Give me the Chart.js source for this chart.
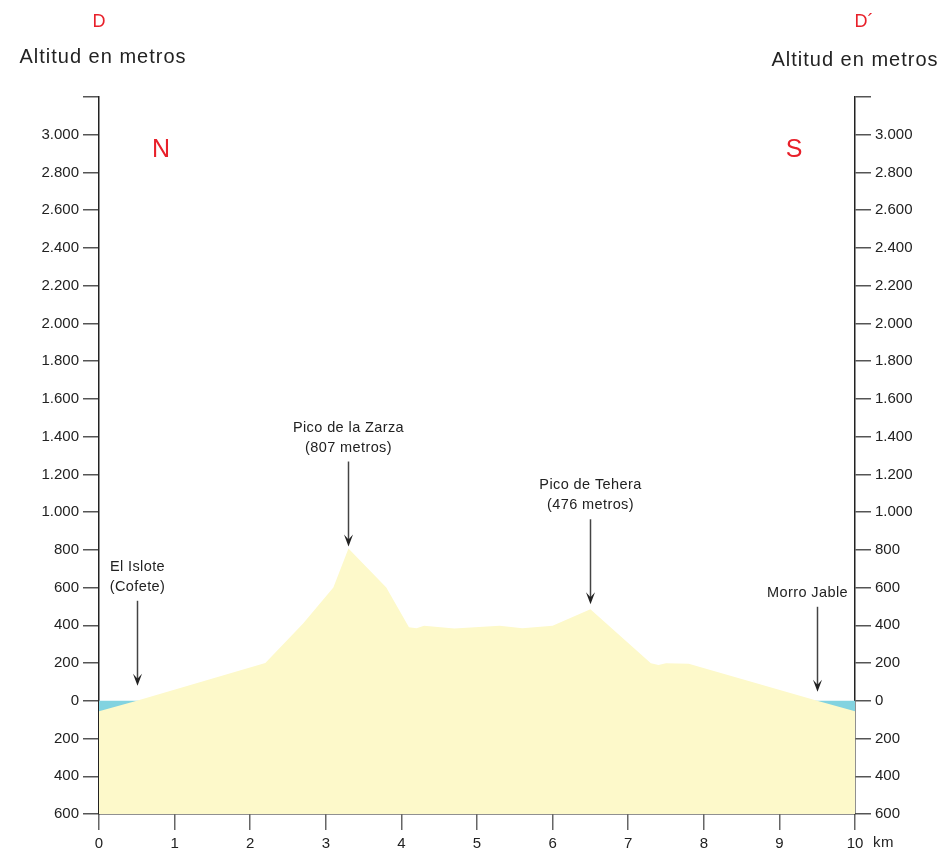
<!DOCTYPE html>
<html>
<head>
<meta charset="utf-8">
<script src="https://cdn.jsdelivr.net/npm/chart.js@4/dist/chart.umd.min.js"></script>
<style>
  html, body { margin: 0; padding: 0; background: #fff; }
  #wrap { position: relative; width: 950px; height: 858px; }
</style>
</head>
<body>
<div id="wrap"><canvas id="profileChart"></canvas></div>
<script>
// Profile D - D' (km along the section, altitude in metres)
const distanceKm = [0, 0.5, 2.2, 2.7, 3.1, 3.3, 3.8, 4.1, 4.2, 4.3, 4.7, 5.3, 5.6, 6.0, 6.5, 7.3, 7.4, 7.5, 7.8, 9.5, 10];
const altitudeM  = [-55, 0, 200, 410, 600, 807, 600, 390, 384, 398, 383, 398, 384, 398, 485, 199, 190, 199, 196, 0, -55];

// sea level line
const seaKm = [0, 10];
const seaM = [0, 0];

// axis ticks
const yTicks = [-600, -400, -200, 0, 200, 400, 600, 800, 1000, 1200, 1400, 1600, 1800, 2000, 2200, 2400, 2600, 2800, 3000, 3200];
const xTicks = [0, 1, 2, 3, 4, 5, 6, 7, 8, 9, 10];

// place names with arrows
const placeNames = [['El Islote', '(Cofete)'], ['Pico de la Zarza', '(807 metros)'], ['Pico de Tehera', '(476 metros)'], ['Morro Jable']];
const placeKm = [0.5, 3.3, 6.5, 9.5];
const placeAlt = [0, 807, 485, 0];

const FONT = '"Liberation Sans", Arial, sans-serif';
const INK = '#222';

function fmt(v) {
  return String(Math.abs(v)).replace(/\B(?=(\d{3})+(?!\d))/g, '.');
}

// draws the titles, N / S, the arrows and the "km" unit
const labelsPlugin = {
  id: 'profileLabels',
  beforeInit(chart) {
    chart.ctx.letterSpacing = '0.6px';
  },
  afterDraw(chart) {
    const ctx = chart.ctx;
    const xs = chart.scales.x;
    const ys = chart.scales.y;
    ctx.save();
    ctx.textAlign = 'center';
    ctx.textBaseline = 'middle';

    // section letters
    ctx.fillStyle = '#e8202a';
    ctx.font = '18px ' + FONT;
    ctx.fillText('D', 99, 22);
    ctx.fillText('D\u00B4', 864, 22);
    ctx.font = '25px ' + FONT;
    ctx.fillText('N', 161, 150);
    ctx.fillText('S', 794, 150);

    // axis titles
    ctx.fillStyle = INK;
    ctx.letterSpacing = '1px';
    ctx.font = '20px ' + FONT;
    ctx.fillText('Altitud en metros', 103, 57);
    ctx.fillText('Altitud en metros', 855, 60);

    // unit after last x tick
    ctx.letterSpacing = '0.6px';
    ctx.font = '15px ' + FONT;
    ctx.textAlign = 'left';
    ctx.fillText('km', xs.getPixelForValue(10) + 18, 843);

    // arrows + names
    const gaps = [15, 2, 5, 9];
    const textDx = [0, 0, 0, -10];
    ctx.font = '14.5px ' + FONT;
    ctx.textAlign = 'center';
    ctx.letterSpacing = '0.4px';
    placeNames.forEach((lines, i) => {
      const x = Math.round(xs.getPixelForValue(placeKm[i])) + 0.5;
      const tip = ys.getPixelForValue(placeAlt[i]) - gaps[i];
      const top = tip - 85;
      ctx.strokeStyle = '#444';
      ctx.lineWidth = 1.5;
      ctx.beginPath();
      ctx.moveTo(x, top);
      ctx.lineTo(x, tip - 5);
      ctx.stroke();
      ctx.fillStyle = INK;
      ctx.beginPath();
      ctx.moveTo(x, tip);
      ctx.lineTo(x - 4.5, tip - 12);
      ctx.lineTo(x, tip - 7);
      ctx.lineTo(x + 4.5, tip - 12);
      ctx.closePath();
      ctx.fill();
      const lh = 20;
      lines.forEach((t, j) => {
        ctx.fillText(t, x + textDx[i], top - 14 - (lines.length - 1 - j) * lh);
      });
    });
    ctx.restore();
  }
};

const tickFont = { family: FONT, size: 15 };

const yAxis = (position, width) => ({
  type: 'linear',
  position: position,
  min: -600,
  max: 3200,
  afterBuildTicks(scale) {
    scale.ticks = yTicks.map(v => ({ value: v }));
  },
  afterFit(scale) {
    scale.width = width;
  },
  border: { color: INK, width: 1.5 },
  grid: { drawOnChartArea: false, drawTicks: true, tickLength: 16, color: '#555', lineWidth: 1.5 },
  ticks: {
    color: INK,
    font: tickFont,
    padding: 4,
    callback: v => (v === 3200 ? '' : fmt(v))
  }
});

new Chart(document.getElementById('profileChart'), {
  type: 'line',
  data: {
    datasets: [
      {
        label: 'Perfil',
        data: distanceKm.map((k, i) => ({ x: k, y: altitudeM[i] })),
        backgroundColor: '#fdf9ca',
        borderWidth: 0,
        pointRadius: 0,
        tension: 0,
        fill: 'start'
      },
      {
        label: 'Mar',
        data: seaKm.map((k, i) => ({ x: k, y: seaM[i] })),
        backgroundColor: '#82d3e0',
        borderWidth: 0,
        pointRadius: 0,
        fill: 'start'
      }
    ]
  },
  options: {
    responsive: true,
    maintainAspectRatio: false,
    animation: false,
    layout: { padding: { top: 97, left: 0, right: 0, bottom: 0 } },
    plugins: {
      legend: { display: false },
      tooltip: { enabled: false }
    },
    scales: {
      x: {
        type: 'linear',
        min: 0,
        max: 10,
        afterBuildTicks(scale) {
          scale.ticks = xTicks.map(v => ({ value: v }));
        },
        afterFit(scale) {
          scale.height = 44;
        },
        border: { color: INK, width: 1.5 },
        grid: { drawOnChartArea: false, drawTicks: true, tickLength: 16, color: '#666', lineWidth: 1.5 },
        ticks: { color: INK, font: tickFont, padding: 5, maxRotation: 0 }
      },
      y: yAxis('left', 99),
      y2: yAxis('right', 95)
    }
  },
  plugins: [labelsPlugin]
});
</script>
</body>
</html>
